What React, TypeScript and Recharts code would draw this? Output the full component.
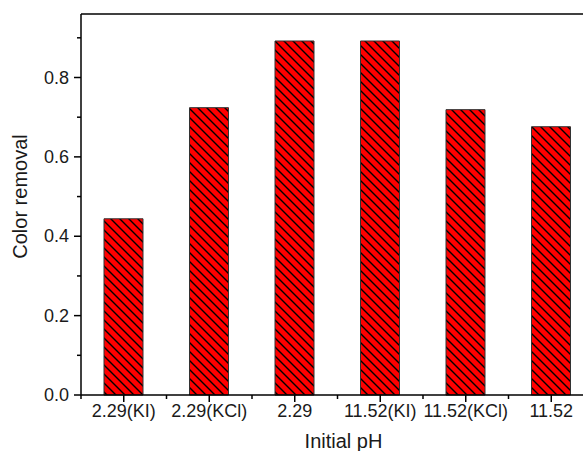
import { Bar, BarChart, Label, ReferenceLine, XAxis, YAxis } from "recharts";

const categories = ["2.29(KI)", "2.29(KCl)", "2.29", "11.52(KI)", "11.52(KCl)", "11.52"];
const removal = [0.444, 0.724, 0.892, 0.892, 0.719, 0.676];
const yTicks = [0, 0.1, 0.2, 0.3, 0.4, 0.5, 0.6, 0.7, 0.8, 0.9];
const yMax = 0.96;

const data = categories.map((pH, i) => ({ pH, removal: removal[i] }));

const W = 610;
const H = 451;
const LEFT = 81;
const RIGHT = 16;
const TOP = 14;
const XAXIS_H = 56;
const BAND = (W - LEFT - RIGHT) / categories.length;
const FONT = "'Liberation Sans', Arial, sans-serif";
const INK = "#1a1a1a";

const YTick = (props: any) => {
  const { x, y, payload, index } = props;
  const major = index % 2 === 0;
  return (
    <g>
      <line x1={x - (major ? 7 : 4)} x2={x} y1={y} y2={y} stroke="#000" strokeWidth={1.5} />
      {major && (
        <text x={x - 12} y={y} dy={6} textAnchor="end" fontSize={18} fontFamily={FONT} fill={INK}>
          {payload.value.toFixed(1)}
        </text>
      )}
    </g>
  );
};

const XTick = (props: any) => {
  const { x, y, payload, index } = props;
  return (
    <g>
      <line x1={x} x2={x} y1={y} y2={y + 7} stroke="#000" strokeWidth={1.5} />
      <line x1={x + BAND / 2} x2={x + BAND / 2} y1={y} y2={y + 4} stroke="#000" strokeWidth={1.5} />
      {index === 0 && (
        <line x1={x - BAND / 2} x2={x - BAND / 2} y1={y} y2={y + 4} stroke="#000" strokeWidth={1.5} />
      )}
      <text x={x} y={y + 22} textAnchor="middle" fontSize={18} fontFamily={FONT} fill={INK}>
        {payload.value}
      </text>
    </g>
  );
};

export default function App() {
  return (
    <div style={{ position: "absolute", left: 0, top: 0, width: 583, height: H, overflow: "hidden", background: "#fff" }}>
      <BarChart width={W} height={H} data={data} margin={{ top: TOP, right: RIGHT, bottom: 0, left: 0 }}>
        <defs>
          <pattern id="hatch" patternUnits="userSpaceOnUse" width={9} height={9}>
            <rect width={9} height={9} fill="#ff0000" />
            <path d="M0,0 L9,9 M-2,7 L2,11 M7,-2 L11,2" stroke="#000" strokeWidth={1.4} />
          </pattern>
        </defs>
        <XAxis
          dataKey="pH"
          height={XAXIS_H}
          tickSize={0}
          tickMargin={0}
          tickLine={false}
          tick={<XTick />}
          interval={0}
          axisLine={{ stroke: "#000", strokeWidth: 1.5 }}
        >
          <Label
            content={({ viewBox }: any) => (
              <text
                x={viewBox.x + viewBox.width / 2 + 6}
                y={viewBox.y + 53}
                textAnchor="middle"
                fontSize={20}
                fontFamily={FONT}
                fill={INK}
              >
                Initial pH
              </text>
            )}
          />
        </XAxis>
        <YAxis
          width={LEFT}
          domain={[0, yMax]}
          ticks={yTicks}
          interval={0}
          tickSize={0}
          tickMargin={0}
          tickLine={false}
          tick={<YTick />}
          axisLine={{ stroke: "#000", strokeWidth: 1.5 }}
        >
          <Label
            content={({ viewBox }: any) => {
              const cx = 20;
              const cy = viewBox.y + viewBox.height / 2 - 8;
              return (
                <text
                  x={cx}
                  y={cy}
                  transform={`rotate(-90 ${cx} ${cy})`}
                  dy={7}
                  textAnchor="middle"
                  fontSize={20}
                  fontFamily={FONT}
                  fill={INK}
                >
                  Color removal
                </text>
              );
            }}
          />
        </YAxis>
        <ReferenceLine y={yMax} stroke="#000" strokeWidth={1.5} />
        <Bar dataKey="removal" barSize={39} fill="url(#hatch)" stroke="#333" strokeWidth={1} isAnimationActive={false} />
      </BarChart>
    </div>
  );
}
